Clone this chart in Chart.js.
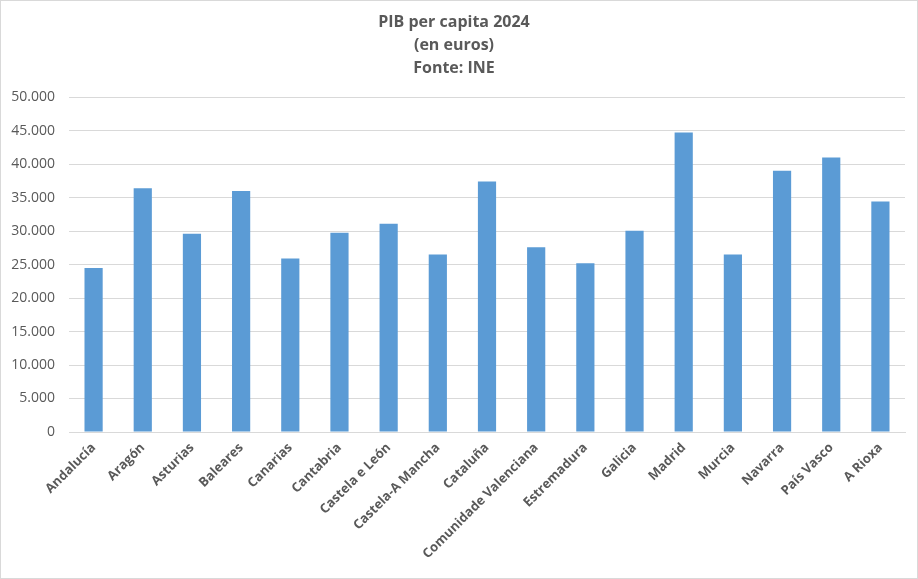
<!DOCTYPE html>
<html>
<head>
<meta charset="utf-8">
<script src="https://cdn.jsdelivr.net/npm/chart.js@4"></script>
<style>
  html, body { margin: 0; padding: 0; background: #fff; }
  #wrap { width: 918px; height: 579px; box-sizing: border-box; border: 1px solid #d9d9d9; position: relative; }
  canvas { display: block; }
</style>
</head>
<body>
<div id="wrap"><canvas id="chart"></canvas></div>
<script>
const regions = ['Andalucía', 'Aragón', 'Asturias', 'Baleares', 'Canarias', 'Cantabria',
  'Castela e León', 'Castela-A Mancha', 'Cataluña', 'Comunidade Valenciana', 'Estremadura',
  'Galicia', 'Madrid', 'Murcia', 'Navarra', 'País Vasco', 'A Rioxa'];
const pibPerCapita = [24500, 36400, 29600, 36000, 25900, 29750, 31100, 26500, 37400,
  27600, 25200, 30050, 44700, 26500, 39000, 41000, 34400];
const titleLines = ['PIB per capita 2024', '(en euros)', 'Fonte: INE'];

const grey = '#595959';
const fontFamily = "'Open Sans', 'Noto Sans', sans-serif";

function formatThousands(v) {
  return String(v).replace(/\B(?=(\d{3})+(?!\d))/g, '.');
}

new Chart(document.getElementById('chart'), {
  type: 'bar',
  data: {
    labels: regions,
    datasets: [{
      data: pibPerCapita,
      backgroundColor: '#5b9bd5',
      borderWidth: 0,
      barPercentage: 0.74,
      categoryPercentage: 0.5
    }]
  },
  options: {
    responsive: true,
    maintainAspectRatio: false,
    animation: false,
    layout: { padding: { left: 2, right: 12, top: 0, bottom: 0 } },
    plugins: {
      legend: { display: false },
      tooltip: { enabled: false },
      title: {
        display: true,
        text: titleLines,
        color: grey,
        font: { family: fontFamily, size: 16, weight: 'bold', lineHeight: 1.44 },
        padding: { top: 10, bottom: 17 }
      }
    },
    scales: {
      x: {
        afterFit: (scale) => { scale.height = 146; },
        grid: { display: false },
        border: { color: '#d9d9d9' },
        ticks: {
          color: grey,
          font: { family: fontFamily, size: 13, weight: 'bold' },
          minRotation: 45,
          maxRotation: 45,
          autoSkip: false,
          padding: 0
        }
      },
      y: {
        min: 0,
        max: 50000,
        afterFit: (scale) => { scale.width = 66; },
        grid: { color: '#d9d9d9', drawTicks: false },
        border: { display: false },
        ticks: {
          stepSize: 5000,
          color: grey,
          padding: 14,
          font: { family: fontFamily, size: 14 },
          callback: (v) => formatThousands(v)
        }
      }
    }
  }
});
</script>
</body>
</html>
